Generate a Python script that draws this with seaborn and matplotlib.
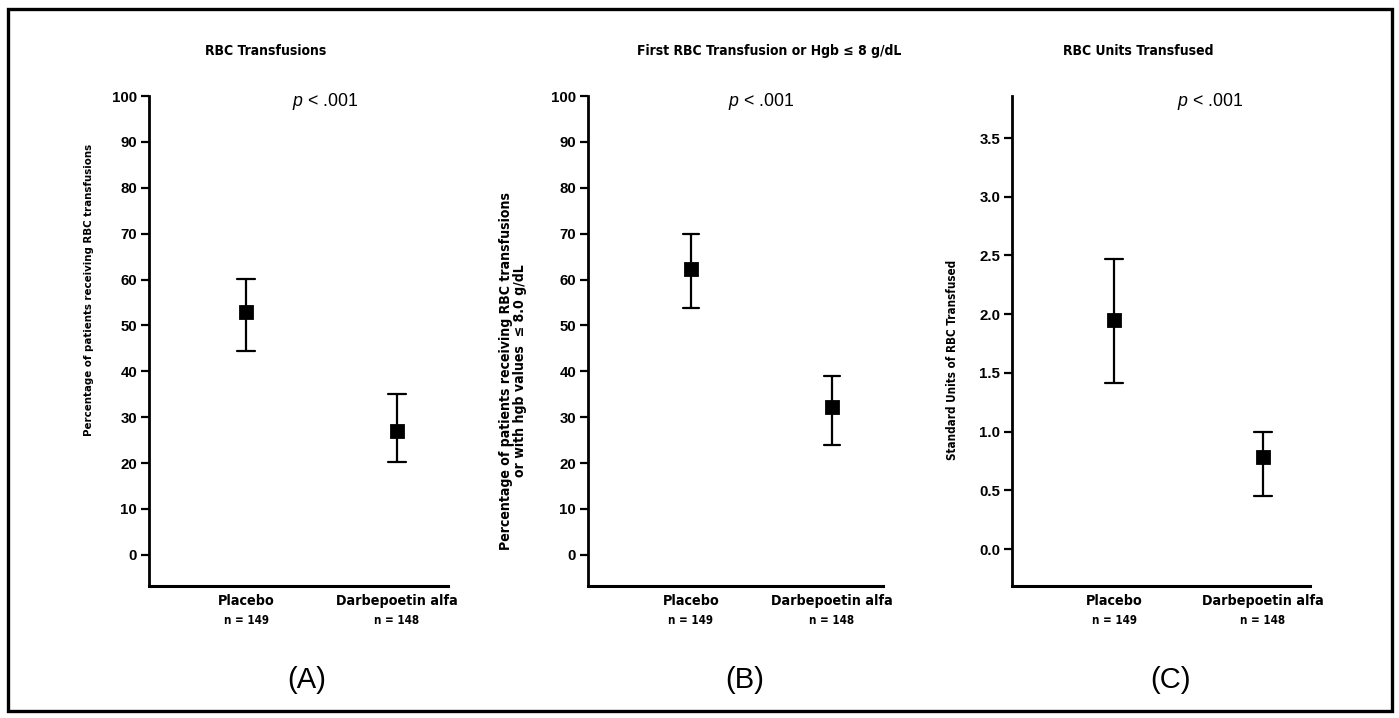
import numpy as np
import pandas as pd
import matplotlib
matplotlib.use("Agg")
import matplotlib.pyplot as plt
import seaborn as sns
from matplotlib import transforms, font_manager
from matplotlib.patches import Rectangle

# ---------------- data ----------------
groups = ["Placebo", "Darbepoetin alfa"]
n_labels = ["n = 149", "n = 148"]
panel_titles = ["RBC Transfusions",
                "First RBC Transfusion or Hgb \u2264 8 g/dL",
                "RBC Units Transfused"]
panel_letters = ["(A)", "(B)", "(C)"]
ylabels = ["Percentage of patients receiving RBC transfusions",
           "Percentage of patients receiving RBC transfusions\nor with hgb values  \u2264 8.0 g/dL",
           "Standard Units of RBC Transfused"]
p_label = "$p$ < .001"

a_est = [53.0, 27.0]
a_lo = [44.5, 20.3]
a_hi = [60.1, 35.0]

b_est = [62.4, 32.3]
b_lo = [53.8, 24.0]
b_hi = [70.0, 39.0]

c_est = [1.95, 0.78]
c_lo = [1.41, 0.45]
c_hi = [2.47, 1.00]

pct_ticks = [0, 10, 20, 30, 40, 50, 60, 70, 80, 90, 100]
unit_ticks = [0.0, 0.5, 1.0, 1.5, 2.0, 2.5, 3.0, 3.5]

# ---------------- style ----------------
sns.set_theme(style="ticks")

def find(family, stretch="normal"):
    try:
        return font_manager.findfont(
            font_manager.FontProperties(family=family, weight="bold", stretch=stretch),
            fallback_to_default=False)
    except Exception:
        return None

NARROW_STRETCH = "normal"
NSCALE = 0.95
p1 = find("Liberation Sans Narrow")
if p1 and "Narrow" in p1:
    NARROW = ["Liberation Sans Narrow", "DejaVu Sans"]
    NSCALE = 1.1
else:
    p2 = find("DejaVu Sans", "condensed")
    if p2 and "Condensed" in p2:
        NARROW = ["DejaVu Sans"]
        NARROW_STRETCH = "condensed"
        NSCALE = 1.0
    else:
        NARROW = ["Liberation Sans", "DejaVu Sans"]

REG = ["Liberation Sans", "DejaVu Sans"]
plt.rcParams["font.family"] = NARROW
plt.rcParams["mathtext.fontset"] = "custom"
plt.rcParams["mathtext.it"] = "Liberation Sans:italic"
plt.rcParams["mathtext.rm"] = "Liberation Sans"
for k in ("text.color", "axes.labelcolor", "xtick.color", "ytick.color"):
    plt.rcParams[k] = "black"

def nfont(size):
    return dict(fontsize=size * NSCALE, fontweight="bold", family=NARROW,
                fontstretch=NARROW_STRETCH, color="black")

TICKFONT = dict(fontsize=10.8, fontweight="bold", family=REG, color="black")

W, H = 1399, 718
fig = plt.figure(figsize=(W / 100, H / 100), dpi=100)
fig.patch.set_facecolor("white")

def frame(est, lo, hi):
    rows = []
    for g, e, l, h in zip(groups, est, lo, hi):
        for v in (l, e, h):
            rows.append({"group": g, "value": v})
    return pd.DataFrame(rows)

panels = [
    dict(est=a_est, lo=a_lo, hi=a_hi, ticks=pct_ticks, fmt="{:d}",
         L=149, R=448, x0=246, x1=397, ylim=(-6.8, 100),
         ylab_px=(94, 290), ylab_size=8.2,
         title_x=205, p_x=292, letter_x=307),
    dict(est=b_est, lo=b_lo, hi=b_hi, ticks=pct_ticks, fmt="{:d}",
         L=588, R=883, x0=691, x1=832, ylim=(-6.8, 100),
         ylab_px=(527, 371), ylab_size=10.1,
         title_x=637, p_x=728, letter_x=745),
    dict(est=c_est, lo=c_lo, hi=c_hi, ticks=unit_ticks, fmt="{:.1f}",
         L=1012, R=1310, x0=1114, x1=1263, ylim=(-0.315, 3.858),
         ylab_px=(959, 360), ylab_size=8.4,
         title_x=1063, p_x=1177, letter_x=1170),
]

TOP, BOT = 96, 586

for i, p in enumerate(panels):
    L, R = p["L"], p["R"]
    ax = fig.add_axes([L / W, 1 - BOT / H, (R - L) / W, (BOT - TOP) / H])
    df = frame(p["est"], p["lo"], p["hi"])
    sns.pointplot(data=df, x="group", y="value", order=groups,
                  estimator="median", errorbar=("pi", 100),
                  color="black", marker="s", markersize=9,
                  linestyle="none", capsize=0.115,
                  err_kws={"linewidth": 1.6}, ax=ax)
    unit = p["x1"] - p["x0"]
    ax.set_xlim(-(p["x0"] - L) / unit, (R - p["x0"]) / unit)
    ax.set_ylim(*p["ylim"])
    ax.set_yticks(p["ticks"])
    ax.set_yticklabels([p["fmt"].format(t) for t in p["ticks"]], **TICKFONT)
    ax.set_xticks([])
    ax.set_xlabel("")
    for s in ("top", "right"):
        ax.spines[s].set_visible(False)
    ax.spines["left"].set_linewidth(2.0)
    ax.spines["bottom"].set_linewidth(2.2)
    ax.spines["left"].set_color("black")
    ax.spines["bottom"].set_color("black")
    ax.tick_params(axis="y", direction="out", length=5.5, width=1.6,
                   colors="black", pad=3)
    ax.set_facecolor("white")

    ax.set_ylabel(ylabels[i], linespacing=1.0, **nfont(p["ylab_size"]))
    lx, ly = p["ylab_px"]
    ax.yaxis.set_label_coords((lx - L) / (R - L), (BOT - ly) / (BOT - TOP))

    # category labels below the axis
    tr = transforms.blended_transform_factory(ax.transData, fig.transFigure)
    for k, g in enumerate(groups):
        ax.text(k, 1 - 601 / H, g, transform=tr, ha="center", va="center",
                **nfont(10.3))
        ax.text(k, 1 - 621 / H, n_labels[k], transform=tr, ha="center",
                va="center", **nfont(8.3))

    fig.text(p["title_x"] / W, 1 - 51 / H, panel_titles[i], ha="left",
             va="center", **nfont(10.0))
    fig.text(p["p_x"] / W, 1 - 102 / H, p_label, ha="left", va="center",
             fontsize=12.8, family=REG, color="black")
    fig.text(p["letter_x"] / W, 1 - 680 / H, panel_letters[i], ha="center",
             va="center", fontsize=21, family=REG, color="black")

# outer frame
fig.patches.append(Rectangle((8 / W, 1 - 711 / H), (1392 - 8) / W, (711 - 9) / H,
                             transform=fig.transFigure, fill=False,
                             edgecolor="black", linewidth=2.4))

fig.savefig("out.png", dpi=100, facecolor="white")
